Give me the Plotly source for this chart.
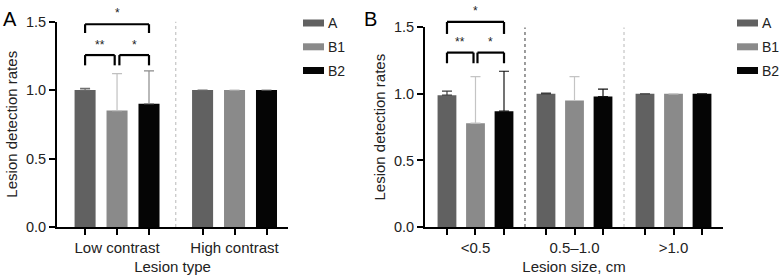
import plotly.graph_objects as go

W, H = 779, 279
FONT = "Liberation Sans, Arial, sans-serif"

# ---------------- data ----------------
series_names = ["A", "B1", "B2"]
bar_colors = ["#616161", "#8a8a8a", "#050505"]
err_colors_type = ["#707070", "#c0c0c0", "#8a8a8a"]
err_colors_size = ["#3c3c3c", "#c4c4c4", "#151515"]

type_categories = ["Low contrast", "High contrast"]
type_A = [1.00, 1.00]
type_B1 = [0.85, 1.00]
type_B2 = [0.90, 1.00]
type_A_err = [0.012, None]
type_B1_err = [0.27, None]
type_B2_err = [0.24, None]

size_categories = ["<0.5", "0.5\u20131.0", ">1.0"]
size_A = [0.99, 1.00, 1.00]
size_B1 = [0.78, 0.95, 1.00]
size_B2 = [0.87, 0.98, 1.00]
size_A_err = [0.03, 0.006, None]
size_B1_err = [0.35, 0.18, None]
size_B2_err = [0.30, 0.055, None]

y_ticks = [0.0, 0.5, 1.0, 1.5]
y_range = [0, 1.5]

# significance brackets: (group, left series, right series, label, level)
type_sig = [(0, 0, 2, "*", "top"), (0, 0, 1, "**", "low"), (0, 1, 2, "*", "low")]
size_sig = [(0, 0, 2, "*", "top"), (0, 0, 1, "**", "low"), (0, 1, 2, "*", "low")]

# ---------------- layout helpers (page pixels -> paper fractions) ----------------
def px_x(p):
    return p / W

def px_y(p):
    return 1 - p / H

panels = {
    "A": dict(xa="x", ya="y", xdom=[px_x(57), px_x(288)], ydom=[px_y(227), px_y(21.5)],
              cats=type_categories, vals=[type_A, type_B1, type_B2],
              errs=[type_A_err, type_B1_err, type_B2_err], errc=err_colors_type,
              step=0.272, width=0.179, xrange=[-0.511, 1.455],
              sig=type_sig, sig_levels={"top": (1.48, 1.416, 1.562), "low": (1.255, 1.18, 1.332)},
              div_colors=["#b8b8b8"], xtitle="Lesion type"),
    "B": dict(xa="x2", ya="y2", xdom=[px_x(425), px_x(723)], ydom=[px_y(227), px_y(27.3)],
              cats=size_categories, vals=[size_A, size_B1, size_B2],
              errs=[size_A_err, size_B1_err, size_B2_err], errc=err_colors_size,
              step=0.288, width=0.19, xrange=[-0.51, 2.5],
              sig=size_sig, sig_levels={"top": (1.54, 1.45, 1.62), "low": (1.31, 1.23, 1.387)},
              div_colors=["#3a3a3a", "#b8b8b8"], xtitle="Lesion size, cm"),
}

fig = go.Figure()
shapes = []
annotations = []

def ydom(v):
    return (v - y_range[0]) / (y_range[1] - y_range[0])

layout_axes = {}
for key, p in panels.items():
    n = len(p["cats"])
    groups = list(range(n))
    offsets = [-p["step"], 0.0, p["step"]]
    tickvals, ticktext = [], []
    for g in groups:
        for k, o in enumerate(offsets):
            tickvals.append(g + o)
            ticktext.append(p["cats"][g] if k == 1 else "")
    for k, name in enumerate(series_names):
        errs = p["errs"][k]
        fig.add_trace(go.Bar(
            x=[g + offsets[k] for g in groups], y=p["vals"][k], width=p["width"],
            name=name, marker=dict(color=bar_colors[k], line=dict(width=0)),
            error_y=dict(type="data", symmetric=False, array=errs,
                         arrayminus=[0 if e is not None else None for e in errs],
                         color=p["errc"][k], thickness=1.2, width=5),
            xaxis=p["xa"], yaxis=p["ya"], showlegend=False,
        ))
    xname = "xaxis" if p["xa"] == "x" else "xaxis2"
    yname = "yaxis" if p["ya"] == "y" else "yaxis2"
    layout_axes[xname] = dict(
        domain=p["xdom"], anchor=p["ya"], range=p["xrange"], showgrid=False, zeroline=False,
        showline=True, linecolor="#000", linewidth=2, ticks="outside", ticklen=6, tickwidth=1.6,
        tickcolor="#000", tickmode="array", tickvals=tickvals, ticktext=ticktext,
        tickfont=dict(family=FONT, size=15, color="#222"), automargin=False,
        title=dict(text=p["xtitle"], font=dict(family=FONT, size=15, color="#222"), standoff=6),
    )
    layout_axes[yname] = dict(
        domain=p["ydom"], anchor=p["xa"], range=y_range, showgrid=False, zeroline=False,
        showline=True, linecolor="#000", linewidth=2, ticks="outside", ticklen=6, tickwidth=1.6,
        tickcolor="#000", tickmode="array", tickvals=y_ticks, tickformat=".1f",
        tickfont=dict(family=FONT, size=14.5, color="#222"), automargin=False,
        title=dict(text="Lesion detection rates", font=dict(family=FONT, size=15, color="#222"), standoff=5),
    )
    # dotted dividers between groups
    for i, c in enumerate(p["div_colors"]):
        shapes.append(dict(type="line", xref=p["xa"], yref=p["ya"], x0=i + 0.5, x1=i + 0.5,
                           y0=y_range[0], y1=y_range[1], line=dict(color=c, width=1, dash="dot")))
    # significance brackets
    gap = 0.02
    for (g, s0, s1, label, level) in p["sig"]:
        ytop, yleg, ystar = p["sig_levels"][level]
        x0 = g + offsets[s0] + (gap if s0 == 1 else 0)
        x1 = g + offsets[s1] - (gap if s1 == 1 else 0)
        ref_y = p["ya"] + " domain"
        for (a0, b0, a1, b1) in [(x0, yleg, x0, ytop), (x0, ytop, x1, ytop), (x1, ytop, x1, yleg)]:
            shapes.append(dict(type="line", xref=p["xa"], yref=ref_y, x0=a0, x1=a1,
                               y0=ydom(b0), y1=ydom(b1), line=dict(color="#000", width=2.2)))
        annotations.append(dict(xref=p["xa"], yref=ref_y, x=(x0 + x1) / 2, y=ydom(ystar),
                                text=label, showarrow=False, xanchor="center", yanchor="middle",
                                font=dict(family=FONT, size=12, color="#222")))

# panel letters
annotations.append(dict(xref="paper", yref="paper", x=px_x(1), y=px_y(18.5), text="A", showarrow=False,
                        xanchor="left", yanchor="middle", font=dict(family=FONT, size=20, color="#000")))
annotations.append(dict(xref="paper", yref="paper", x=px_x(362), y=px_y(18.5), text="B", showarrow=False,
                        xanchor="left", yanchor="middle", font=dict(family=FONT, size=20, color="#000")))

# legends (drawn manually to match the wide swatches)
legend_rows = [23, 46.8, 70.5]
for lx in (303, 737):
    for k, name in enumerate(series_names):
        cy = legend_rows[k]
        shapes.append(dict(type="rect", xref="paper", yref="paper", x0=px_x(lx), x1=px_x(lx + 21),
                           y0=px_y(cy + 3.5), y1=px_y(cy - 3.5), line=dict(width=0),
                           fillcolor=bar_colors[k]))
        annotations.append(dict(xref="paper", yref="paper", x=px_x(lx + 23), y=px_y(cy), text=name,
                                showarrow=False, xanchor="left", yanchor="middle",
                                font=dict(family=FONT, size=14, color="#222")))

fig.update_layout(
    width=W, height=H, margin=dict(l=0, r=0, t=0, b=0),
    paper_bgcolor="#fff", plot_bgcolor="#fff",
    barmode="overlay", shapes=shapes, annotations=annotations,
    font=dict(family=FONT, color="#222"),
    **layout_axes,
)

# the figure fills the whole window, so drop the browser's default body margin
fig.write_html("out.html", config={"displayModeBar": False},
               post_script="document.body.style.margin='0';")
